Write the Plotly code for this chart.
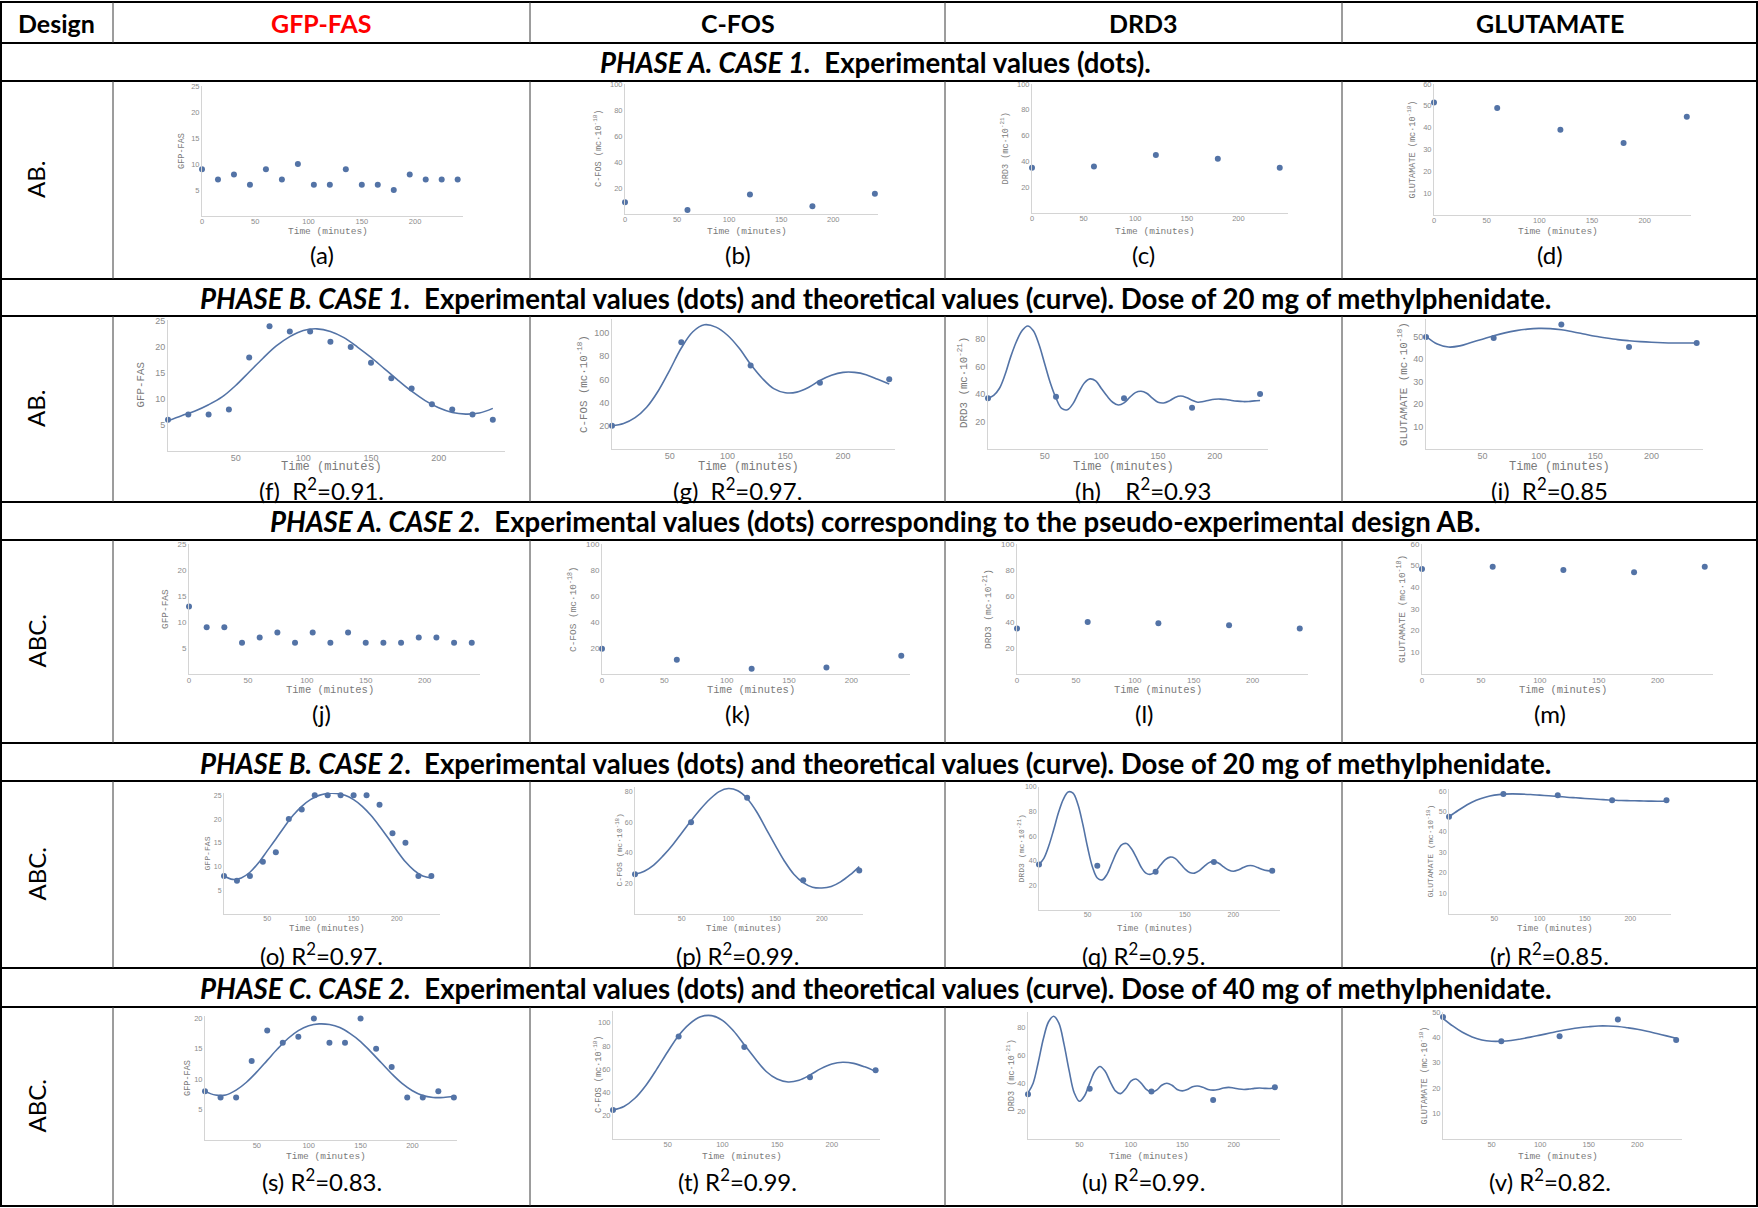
import plotly.graph_objects as go

W, H = 1758, 1208

# ---------------- data ----------------
T15 = list(range(0, 241, 15))
T60 = [0, 60, 120, 180, 240]
T10 = list(range(0, 241, 10))
T5 = list(range(0, 241, 5))

col_names = ["GFP-FAS", "C-FOS", "DRD3", "GLUTAMATE"]

# Phase A, case 1 (experimental)
gfp_a1 = [9, 7, 8, 6, 9, 7, 10, 6, 6, 9, 6, 6, 5, 8, 7, 7, 7]
cfos_a1 = [9, 3, 15, 6, 15.5]
drd3_a1 = [35, 36, 45, 42, 35]
glu_a1 = [51.5, 49, 39, 33, 45]

# Phase B, case 1 (experimental + theoretical)
gfp_b1 = [6, 7, 7, 8, 18, 24, 23, 23, 21, 20, 17, 14, 12, 9, 8, 7, 6]
gfp_b1_fit = [5.8, 6.8, 7.7, 8.9, 10.4, 12.6, 15.2, 17.8, 20.2, 22.0, 23.2, 23.5, 23.0,
              21.8, 20.0, 18.0, 15.8, 13.6, 11.5, 9.7, 8.3, 7.4, 7.1, 7.3, 8.2]
cfos_b1 = [20, 92, 72, 57, 60]
cfos_b1_fit = [20, 22, 27, 36, 50, 68, 87, 101, 107, 105, 98, 87, 73, 61, 52, 48.5, 49,
               53, 59, 63.5, 66, 66, 64, 60, 56]
drd3_b1 = [37, 38, 37, 30, 40]
drd3_b1_fit = [37, 39, 44, 54, 67, 78, 86, 89.5, 86, 76, 62, 48, 37, 29.5, 28.5, 33, 41,
               48, 51, 49.5, 44, 38.5, 34, 32, 33.5, 37.5, 41, 42, 40.5, 37, 34, 33.5, 35,
               37.5, 38.5, 37.5, 35.5, 34, 34.5, 35.5, 36.2, 36.3, 36, 35.3, 34.8, 34.5,
               34.6, 35, 35.3]
glu_b1 = [50, 49.5, 55.5, 45.5, 47.3]
glu_b1_fit = [50.3, 46.8, 45.5, 46, 47.5, 49, 50.5, 51.8, 52.8, 53.5, 53.8, 53.7, 53.2,
              52.3, 51.3, 50.3, 49.5, 48.8, 48.3, 47.9, 47.6, 47.4, 47.3, 47.3, 47.3]

# Phase A, case 2 (experimental)
gfp_a2 = [13, 9, 9, 6, 7, 8, 6, 8, 6, 8, 6, 6, 6, 7, 7, 6, 6]
cfos_a2 = [19.5, 11, 4, 5, 14]
drd3_a2 = [35, 40, 39, 37.5, 35]
glu_a2 = [48.5, 49.5, 48, 47, 49.5]

# Phase B, case 2
gfp_b2 = [8, 7, 8, 11, 13, 20, 22, 25, 25, 25, 25, 25, 23, 17, 15, 8, 8]
gfp_b2_fit = [8, 7.3, 7.6, 8.8, 10.8, 13.3, 15.8, 18.4, 20.8, 22.7, 24.1, 25, 25.4, 25.4,
              25, 24.1, 22.7, 20.8, 18.5, 16, 13.4, 11, 9.2, 8, 7.6]
cfos_b2 = [26, 60, 76, 22, 28.5]
cfos_b2_fit = [26, 28, 32, 38, 45, 53, 61, 68.5, 75, 80, 82, 80.5, 75.5, 67, 56, 45, 34.5,
               26, 20.5, 17.5, 17, 18, 21, 25.5, 31]
drd3_b2 = [37, 36, 31, 39, 32]
drd3_b2_fit = [37, 42, 52, 65, 79, 90, 96, 95, 86, 70, 51, 35, 26, 24.5, 29, 38, 47, 53,
               54, 50, 43, 35, 30, 29, 31.5, 36.5, 41, 43, 42, 38, 33.5, 30.5, 30, 32,
               35.5, 38.5, 39.5, 38, 35, 32.5, 31.5, 32.5, 34.5, 36, 36, 34.5, 33, 32, 31.5]
glu_b2 = [47.5, 58.5, 58, 55.5, 55.5]
glu_b2_fit = [47.5, 50.5, 53.3, 55.5, 57, 58, 58.5, 58.6, 58.5, 58.3, 58, 57.7, 57.4, 57,
              56.7, 56.4, 56.1, 55.8, 55.6, 55.4, 55.3, 55.2, 55.1, 55, 55]

# Phase C, case 2
gfp_c2 = [8, 7, 7, 13, 18, 16, 17, 20, 16, 16, 20, 15, 12, 7, 7, 8, 7]
gfp_c2_fit = [8, 7.4, 7.4, 8.2, 9.5, 11.2, 13.1, 15, 16.7, 18, 18.8, 19.1, 19, 18.5, 17.5,
              16.2, 14.5, 12.7, 10.9, 9.3, 8.1, 7.3, 7, 7, 7.2]
cfos_c2 = [25, 88, 79, 53, 59]
cfos_c2_fit = [25, 28, 35, 46, 60, 75, 89, 99, 105, 106, 102, 93, 81, 69, 58, 51.5, 49,
               50.5, 55, 60.5, 64.5, 66, 65, 62, 58]
drd3_c2 = [32, 36, 34, 28, 37]
drd3_c2_fit = [33, 40, 55, 72, 84, 88, 83, 68, 49, 33, 27, 31, 40, 48.5, 52, 48.5, 41,
               34.5, 32.5, 36, 41.5, 43, 40, 35.5, 33.5, 35, 38.5, 40, 38.5, 35.5, 34.5,
               35.5, 37.5, 38, 37, 35.5, 35, 35.5, 36.5, 37, 36.5, 35.8, 35.5, 35.8, 36.3,
               36.5, 36.3, 36.2, 36.5]
glu_c2 = [48, 38.5, 40.5, 47, 39]
glu_c2_fit = [47.5, 44.5, 42, 40.2, 39, 38.5, 38.5, 38.8, 39.4, 40.1, 40.9, 41.7, 42.5,
              43.2, 43.8, 44.2, 44.5, 44.5, 44.3, 43.8, 43.2, 42.4, 41.5, 40.6, 39.7]

ytitles = ["GFP-FAS", "C-FOS (mc·10<sup>-18</sup>)", "DRD3 (mc·10<sup>-21</sup>)",
           "GLUTAMATE (mc·10<sup>-18</sup>)"]

phase_titles = [
    "<b><i>PHASE A. CASE 1.</i>\u00a0 Experimental values (dots).</b>",
    "<b><i>PHASE B. CASE 1.</i>\u00a0 Experimental values (dots) and theoretical values (curve). Dose of 20 mg of methylphenidate.</b>",
    "<b><i>PHASE A. CASE 2.</i>\u00a0 Experimental values (dots) corresponding to the pseudo-experimental design AB.</b>",
    "<b><i>PHASE B. CASE 2</i>.\u00a0 Experimental values (dots) and theoretical values (curve). Dose of 20 mg of methylphenidate.</b>",
    "<b><i>PHASE C. CASE 2.</i>\u00a0 Experimental values (dots) and theoretical values (curve). Dose of 40 mg of methylphenidate.</b>",
]
design_labels = ["AB.", "AB.", "ABC.", "ABC.", "ABC."]

captions = [
    ["(a)", "(b)", "(c)", "(d)"],
    ["(f)\u00a0 R<sup>2</sup>=0.91.", "(g)\u00a0 R<sup>2</sup>=0.97.", "(h)\u00a0\u00a0\u00a0 R<sup>2</sup>=0.93", "(i)\u00a0 R<sup>2</sup>=0.85"],
    ["(j)", "(k)", "(l)", "(m)"],
    ["(o) R<sup>2</sup>=0.97.", "(p) R<sup>2</sup>=0.99.", "(q) R<sup>2</sup>=0.95.", "(r) R<sup>2</sup>=0.85."],
    ["(s) R<sup>2</sup>=0.83.", "(t) R<sup>2</sup>=0.99.", "(u) R<sup>2</sup>=0.99.", "(v) R<sup>2</sup>=0.82."],
]

# ---------------- layout geometry (pixels) ----------------
row_lines = [2, 43, 81, 279, 316, 502, 540, 743, 781, 968, 1007, 1206]
col_lines = [1, 113, 530, 945, 1342, 1757]
row_text = [
    dict(xty=231, capy=254, tf=7.5, ttf=9.5),
    dict(xty=467, capy=489, tf=9, ttf=12),
    dict(xty=690, capy=713, tf=8, ttf=10.5),
    dict(xty=929, capy=954, tf=7, ttf=9),
    dict(xty=1156, capy=1180, tf=7.5, ttf=9.5),
]

X0 = [0, 50, 100, 150, 200]
X1 = [50, 100, 150, 200]

S = []
def add(row, col, x, y, fxv, fyv, box, xr, yr, yt, xt, ytx):
    S.append(dict(row=row, col=col, x=x, y=y, fx=fxv, fy=fyv, box=box, xr=xr, yr=yr,
                  yt=yt, xt=xt, ytx=ytx))

add(0, 0, T15, gfp_a1, None, None, (202, 463, 86, 216), 245, 25, [5, 10, 15, 20, 25], X0, 182)
add(0, 1, T60, cfos_a1, None, None, (625, 878, 84, 214), 243, 100, [20, 40, 60, 80, 100], X0, 598)
add(0, 2, T60, drd3_a1, None, None, (1032, 1288, 84, 213), 248, 100, [20, 40, 60, 80, 100], X0, 1005)
add(0, 3, T60, glu_a1, None, None, (1434, 1691, 84, 215), 244, 60, [10, 20, 30, 40, 50, 60], X0, 1412)

add(1, 0, T15, gfp_b1, T10, gfp_b1_fit, (168, 505, 320, 451), 249, 25.2, [5, 10, 15, 20, 25], X1, 140)
add(1, 1, T60, cfos_b1, T10, cfos_b1_fit, (612, 895, 319, 449), 245, 112, [20, 40, 60, 80, 100], X1, 583)
add(1, 2, T60, drd3_b1, T5, drd3_b1_fit, (988, 1268, 317, 449), 247, 96, [20, 40, 60, 80], X1, 963)
add(1, 3, T60, glu_b1, T10, glu_b1_fit, (1426, 1703, 319, 449), 245.6, 58, [10, 20, 30, 40, 50], X1, 1403)

add(2, 0, T15, gfp_a2, None, None, (189, 480, 544, 674), 247, 25, [5, 10, 15, 20, 25], X0, 165)
add(2, 1, T60, cfos_a2, None, None, (602, 910, 544, 674), 247, 100, [20, 40, 60, 80, 100], X0, 572)
add(2, 2, T60, drd3_a2, None, None, (1017, 1308, 544, 674), 247, 100, [20, 40, 60, 80, 100], X0, 987)
add(2, 3, T60, glu_a2, None, None, (1422, 1713, 544, 674), 247, 60, [10, 20, 30, 40, 50, 60], X0, 1401)

add(3, 0, T15, gfp_b2, T10, gfp_b2_fit, (224, 440, 793, 914), 250, 25.5, [5, 10, 15, 20, 25], X1, 207)
add(3, 1, T60, cfos_b2, T10, cfos_b2_fit, (635, 863, 787, 914), 244, 83, [20, 40, 60, 80], X1, 618)
add(3, 2, T60, drd3_b2, T5, drd3_b2_fit, (1039, 1280, 787, 910), 248, 100, [20, 40, 60, 80, 100], X1, 1020)
add(3, 3, T60, glu_b2, T10, glu_b2_fit, (1449, 1671, 789, 914), 245, 61, [10, 20, 30, 40, 50, 60], X1, 1430)

add(4, 0, T15, gfp_c2, T10, gfp_c2_fit, (205, 457, 1016, 1140), 243, 20.4, [5, 10, 15, 20], X1, 188)
add(4, 1, T60, cfos_c2, T10, cfos_c2_fit, (613, 880, 1011, 1139), 244, 110, [20, 40, 60, 80, 100], X1, 598)
add(4, 2, T60, drd3_c2, T5, drd3_c2_fit, (1028, 1280, 1012, 1139), 245, 91, [20, 40, 60, 80], X1, 1011)
add(4, 3, T60, glu_c2, T10, glu_c2_fit, (1443, 1682, 1012, 1139), 246, 50, [10, 20, 30, 40, 50], X1, 1424)

BLUE = "#5373a6"
TABLE_FONT = "Lato, Carlito, Calibri, Open Sans, sans-serif"
MONO = "Liberation Mono, Courier New, monospace"
SANS = "Liberation Sans, Arial, sans-serif"


def fx(p):
    return p / W


def fy(p):
    return 1 - p / H


def note(text, x, y, size, family=TABLE_FONT, color="black", angle=0):
    return dict(text=text, xref="paper", yref="paper", x=fx(x), y=fy(y), showarrow=False,
                xanchor="center", yanchor="middle", textangle=angle,
                font=dict(family=family, size=size, color=color))


fig = go.Figure()
layout = dict(width=W, height=H, margin=dict(l=0, r=0, t=0, b=0, autoexpand=False),
              paper_bgcolor="white", plot_bgcolor="white", showlegend=False)
annotations = []
shapes = []

cell_centers = [(col_lines[i] + col_lines[i + 1]) / 2 for i in range(1, 5)]

for i, s in enumerate(S):
    n = i + 1
    xa = "xaxis" if n == 1 else f"xaxis{n}"
    ya = "yaxis" if n == 1 else f"yaxis{n}"
    xr = "x" if n == 1 else f"x{n}"
    yr = "y" if n == 1 else f"y{n}"
    l, r, t, b = s["box"]
    rt = row_text[s["row"]]
    axcommon = dict(showgrid=False, zeroline=False, showline=True, linecolor="#d4d4d4",
                    linewidth=1, ticks="",
                    tickfont=dict(family=SANS, size=rt["tf"], color="#8c8c8c"),
                    fixedrange=True, automargin=False)
    layout[xa] = dict(domain=[fx(l), fx(r)], range=[0, s["xr"]], anchor=yr,
                      tickmode="array", tickvals=s["xt"], ticklabelstandoff=-2, **axcommon)
    layout[ya] = dict(domain=[fy(b), fy(t)], range=[0, s["yr"]], anchor=xr,
                      tickmode="array", tickvals=s["yt"], **axcommon)
    if s["fy"] is not None:
        fig.add_trace(go.Scatter(x=s["fx"], y=s["fy"], mode="lines",
                                 line=dict(color=BLUE, width=1.6, shape="spline", smoothing=1.0),
                                 xaxis=xr, yaxis=yr, hoverinfo="skip", cliponaxis=False))
    fig.add_trace(go.Scatter(x=s["x"], y=s["y"], mode="markers",
                             marker=dict(color=BLUE, size=6),
                             xaxis=xr, yaxis=yr, cliponaxis=False))
    annotations.append(note("Time (minutes)", (l + r) / 2 - 5, rt["xty"], rt["ttf"],
                            family=MONO, color="#7a7a7a"))
    annotations.append(note(ytitles[s["col"]], s["ytx"], (t + b) / 2, rt["ttf"] * 0.9,
                            family=MONO, color="#7a7a7a", angle=-90))
    annotations.append(note(captions[s["row"]][s["col"]], cell_centers[s["col"]], rt["capy"], 24))

# header row
annotations.append(note("<b>Design</b>", 57, 23, 25))
for ci, name in enumerate(col_names):
    annotations.append(note(f"<b>{name}</b>", cell_centers[ci], 23, 25,
                            color="#ff0000" if ci == 0 else "black"))

phase_rows = [(43, 81), (279, 316), (502, 540), (743, 781), (968, 1007)]
plot_rows = [(81, 279), (316, 502), (540, 743), (781, 968), (1007, 1206)]
for k, txt in enumerate(phase_titles):
    y0, y1 = phase_rows[k]
    annotations.append(note(txt, W / 2 - 4, (y0 + y1) / 2 + 1, 27.6))
for k, lab in enumerate(design_labels):
    y0, y1 = plot_rows[k]
    annotations.append(note(lab, 36, (y0 + y1) / 2, 24, angle=-90))

# table lines
for yl in row_lines:
    shapes.append(dict(type="line", xref="paper", yref="paper", x0=0, x1=1, y0=fy(yl), y1=fy(yl),
                       line=dict(color="black", width=2)))
for xi, xl in enumerate(col_lines):
    outer = xi in (0, len(col_lines) - 1)
    segs = [(2, 1206)] if outer else [(2, 43)] + plot_rows
    for (a, b) in segs:
        shapes.append(dict(type="line", xref="paper", yref="paper", x0=fx(xl), x1=fx(xl),
                           y0=fy(a), y1=fy(b),
                           line=dict(color="black" if outer else "#3a3a3a", width=2 if outer else 1)))

layout["annotations"] = annotations
layout["shapes"] = shapes
fig.update_layout(**layout)
fig.write_html("out.html", config={"displayModeBar": False},
               post_script="document.body.style.margin='0px';document.body.style.overflow='hidden';")
